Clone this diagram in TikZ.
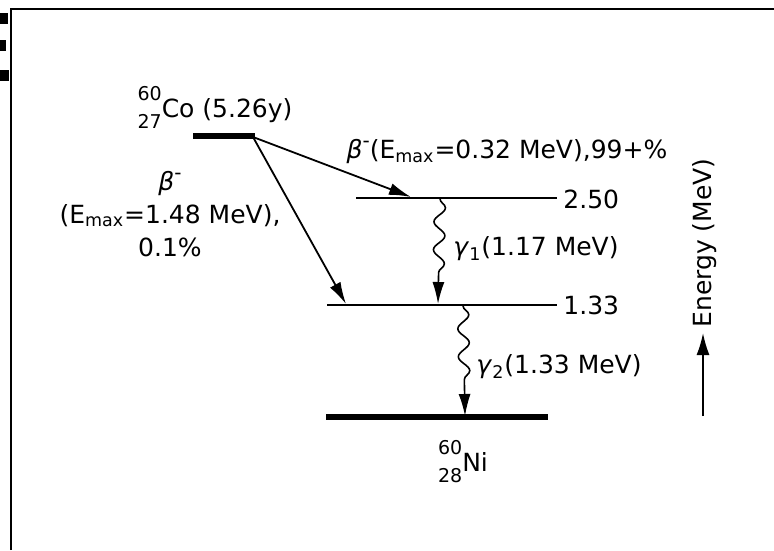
\documentclass[tikz,border=0pt]{standalone}
\usepackage{amsmath}
\usepackage{fontspec}
\setmainfont{DejaVu Sans}
\usetikzlibrary{arrows.meta,decorations.pathmorphing}
% mass number over atomic number, then the symbol
\newcommand\nuclide[3]{\makebox[0pt][l]{\raisebox{8.5pt}{\fontsize{9.5}{10}\selectfont #1}}%
  \raisebox{-5.5pt}{\fontsize{9.5}{10}\selectfont #2}#3}
\newcommand\bminus{\textit{β}\raisebox{5.5pt}{\fontsize{10}{10}\selectfont -}}

\begin{document}
\begin{tikzpicture}[x=0.5pt,y=-0.5pt,
  every node/.style={font=\fontsize{12.5}{16.5}\selectfont,inner sep=0pt},
  level/.style={line width=1pt},
  gslevel/.style={line width=2.8pt},
  decay/.style={line width=0.9pt,-{Latex[length=11pt,width=6pt]}},
  gammaray/.style={line width=0.8pt,-{Latex[length=11pt,width=6pt]},
    decorate,decoration={snake,amplitude=2.8pt,segment length=14pt,post length=12pt}}]
\useasboundingbox (0,0) rectangle (774,550);
% frame and scan marks
\draw[line width=1.2pt] (11,550) -- (11,9) -- (774,9);
\fill (0,13) rectangle (8,24);
\fill (0,40) rectangle (6,51);
\fill (0,70) rectangle (9,81);
% levels
\draw[gslevel] (193,136) -- (255,136);
\draw[level] (356,198) -- (557,198);
\draw[level] (327,305) -- (557,305);
\draw[gslevel] (326,417) -- (548,417);
\coordinate (co-end) at (253,137);
\coordinate (hit-250) at (411,197);
\coordinate (hit-133) at (346,304);
\coordinate (g1-top) at (440,199);
\coordinate (g1-bot) at (438,304);
\coordinate (g2-top) at (463,306);
\coordinate (g2-bot) at (465,416);
\coordinate (en-tail) at (703,416);
\coordinate (en-head) at (703,333);
% labels
\node (co) at (215,107) {\nuclide{60}{27}{Co} (5.26y)};
\node (ni) at (463,462) {\nuclide{60}{28}{Ni}};
\node[anchor=west] (e250) at (563,199) {2.50};
\node[anchor=west] (e133) at (563,305) {1.33};
\node (beta-main) at (507,152) {\bminus(E$_{\text{max}}$=0.32 MeV),99+\%};
\node[align=center] (beta-side) at (170,214) {\bminus\\(E$_{\text{max}}$=1.48 MeV),\\0.1\%};
\node[anchor=west] (gam1) at (453,249) {\textit{γ}$_{\text{1}}$(1.17 MeV)};
\node[anchor=west] (gam2) at (476,367) {\textit{γ}$_{\text{2}}$(1.33 MeV)};
\node[rotate=90] (energy) at (705,243) {Energy (MeV)};
% transitions
\draw[decay] (co-end) -- (hit-250);
\draw[decay] (co-end) -- (hit-133);
\draw[gammaray] (g1-top) -- (g1-bot);
\draw[gammaray] (g2-top) -- (g2-bot);
\draw[line width=0.9pt,-{Latex[length=11pt,width=6.5pt]}] (en-tail) -- (en-head);
\end{tikzpicture}
\end{document}
